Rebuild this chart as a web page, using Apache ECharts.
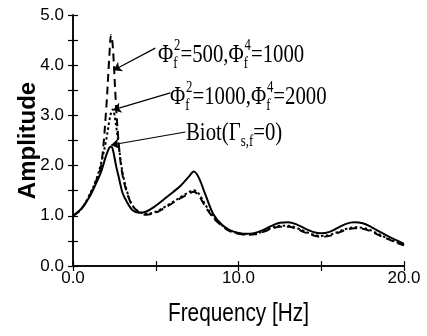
<!DOCTYPE html>
<html>
<head>
<meta charset="utf-8">
<script src="https://cdn.jsdelivr.net/npm/echarts@6/dist/echarts.min.js"></script>
<style>
  html, body { margin: 0; padding: 0; background: #fff; }
  #chart { width: 427px; height: 336px; }
</style>
</head>
<body>
<div id="chart"></div>
<script>
// frequency [Hz], shared by all three curves
const freq = [0, 0.5, 1.0, 1.4, 1.7, 2.0, 2.2, 2.3, 2.4, 2.6, 2.8, 3.0, 3.3, 3.6, 4.0, 4.4,
  5.0, 5.5, 6.0, 6.5, 7.0, 7.3, 7.6, 8.0, 8.5, 9.0, 9.5, 10.0, 10.5, 11.0, 11.5, 12.0,
  12.5, 13.0, 13.5, 14.0, 14.5, 15.0, 15.5, 16.0, 16.5, 17.0, 17.5, 18.0, 18.5, 19.0, 19.5, 20.0]

// Biot (Gamma_s,f = 0) - solid
const biot = [1.0, 1.14, 1.38, 1.65, 1.88, 2.2, 2.36, 2.38, 2.33, 2.0, 1.72, 1.45, 1.25, 1.11, 1.06, 1.08,
  1.2, 1.33, 1.46, 1.6, 1.78, 1.88, 1.76, 1.42, 1.02, 0.82, 0.71, 0.66, 0.64, 0.66, 0.72, 0.8,
  0.86, 0.87, 0.83, 0.75, 0.68, 0.65, 0.68, 0.76, 0.84, 0.87, 0.85, 0.78, 0.69, 0.6, 0.52, 0.44]

// Phi2 = 500, Phi4 = 1000 - dashed
const phi500 = [1.0, 1.13, 1.4, 1.7, 2.0, 3.1, 4.2, 4.6, 4.4, 3.2, 2.3, 1.8, 1.42, 1.2, 1.07, 1.02,
  1.06, 1.15, 1.25, 1.35, 1.44, 1.48, 1.4, 1.18, 0.95, 0.8, 0.69, 0.64, 0.62, 0.63, 0.68, 0.74,
  0.78, 0.78, 0.74, 0.67, 0.61, 0.58, 0.6, 0.66, 0.72, 0.75, 0.74, 0.69, 0.61, 0.54, 0.47, 0.41]

// Phi2 = 1000, Phi4 = 2000 - dotted
const phi1000 = [1.0, 1.13, 1.42, 1.72, 2.05, 2.5, 2.9, 3.05, 3.12, 2.8, 2.3, 1.85, 1.45, 1.2, 1.08, 1.04,
  1.08, 1.17, 1.27, 1.37, 1.47, 1.51, 1.44, 1.22, 0.97, 0.81, 0.7, 0.65, 0.63, 0.64, 0.69, 0.76,
  0.8, 0.8, 0.76, 0.69, 0.63, 0.6, 0.62, 0.68, 0.74, 0.77, 0.76, 0.71, 0.63, 0.55, 0.48, 0.42]

// annotation arrows: [from, to] in [Hz, amplitude]
const arrows = [
  [[4.97, 4.34], [2.45, 3.9]],
  [[5.88, 3.45], [2.42, 3.11]],
  [[6.79, 2.67], [2.3, 2.41]]
]

const pairs = ys => freq.map((f, i) => [f, ys[i]])

const chart = echarts.init(document.getElementById('chart'))

const tickFont = { fontFamily: 'Liberation Sans', fontSize: 17, color: '#000' }
const axisLine = { show: true, lineStyle: { color: '#000', width: 1.5 } }
const axisTick = { show: true, inside: true, length: 5, lineStyle: { color: '#000', width: 1.2 } }

const richText = {
  m: { fontFamily: 'Liberation Serif', fontSize: 26, lineHeight: 34, verticalAlign: 'middle', fill: '#000' },
  sub: { fontFamily: 'Liberation Serif', fontSize: 16, lineHeight: 15, verticalAlign: 'bottom', width: 1, fill: '#000' },
  subw: { fontFamily: 'Liberation Serif', fontSize: 16, lineHeight: 15, verticalAlign: 'bottom', fill: '#000' },
  sup: { fontFamily: 'Liberation Serif', fontSize: 16, lineHeight: 15, verticalAlign: 'top', fill: '#000' }
}

function note(x, y, text) {
  return {
    type: 'text',
    x: x,
    y: y,
    scaleX: 0.8,
    style: { text: text, x: 0, y: 0, verticalAlign: 'middle', rich: richText }
  }
}

chart.setOption({
  animation: false,
  grid: { left: 73, right: 23, top: 15, bottom: 70 },
  xAxis: [
    {
      type: 'value', min: 0, max: 20, interval: 5,
      axisLine: axisLine, axisTick: axisTick, splitLine: { show: false },
      axisLabel: Object.assign({ margin: 4, formatter: v => (v % 10 === 0 ? v.toFixed(1) : '') }, tickFont)
    },
    {
      type: 'value', position: 'top', min: 0, max: 20, interval: 5,
      axisLine: axisLine, axisTick: axisTick, splitLine: { show: false }, axisLabel: { show: false }
    }
  ],
  yAxis: [
    {
      type: 'value', min: 0, max: 5, interval: 0.5,
      name: 'Amplitude', nameLocation: 'middle', nameGap: 33, nameMoveOverlap: false,
      nameTextStyle: { fontFamily: 'Liberation Sans', fontWeight: 'bold', fontSize: 24, color: '#000' },
      axisLine: axisLine, axisTick: axisTick, splitLine: { show: false },
      axisLabel: Object.assign({ margin: 9, formatter: v => (v % 1 === 0 ? v.toFixed(1) : '') }, tickFont)
    },
    {
      type: 'value', position: 'right', min: 0, max: 5, interval: 0.5,
      axisLine: axisLine, axisTick: axisTick, splitLine: { show: false }, axisLabel: { show: false }
    }
  ],
  series: [
    {
      name: 'Biot',
      type: 'line',
      data: pairs(biot),
      smooth: 0.35,
      symbol: 'none',
      lineStyle: { color: '#000', width: 2 },
      markLine: {
        silent: true,
        symbol: ['none', 'arrow'],
        symbolSize: 8,
        label: { show: false },
        lineStyle: { color: '#000', width: 1.2, type: 'solid' },
        data: arrows.map(a => [{ coord: a[0] }, { coord: a[1] }])
      }
    },
    {
      name: 'phi500',
      type: 'line',
      data: pairs(phi500),
      smooth: 0.35,
      symbol: 'none',
      lineStyle: { color: '#000', width: 2, type: [8, 5] }
    },
    {
      name: 'phi1000',
      type: 'line',
      data: pairs(phi1000),
      smooth: 0.35,
      symbol: 'none',
      lineStyle: { color: '#000', width: 2, type: [2.5, 2.5] }
    }
  ],
  graphic: [
    note(158, 55, '{m|Φ}{sub|f}{sup|2}{m|=500,Φ}{sub|f}{sup|4}{m|=1000}'),
    note(170, 97, '{m|Φ}{sub|f}{sup|2}{m|=1000,Φ}{sub|f}{sup|4}{m|=2000}'),
    note(186, 133, '{m|Biot(Γ}{subw|s,f}{m|=0)}'),
    {
      // x axis title, condensed like the original
      type: 'text',
      x: 238.5,
      y: 314,
      scaleX: 0.8,
      style: {
        text: 'Frequency [Hz]', x: 0, y: 0, align: 'center', verticalAlign: 'middle',
        fontFamily: 'Liberation Sans', fontSize: 26, fill: '#000'
      }
    }
  ]
})
</script>
</body>
</html>
